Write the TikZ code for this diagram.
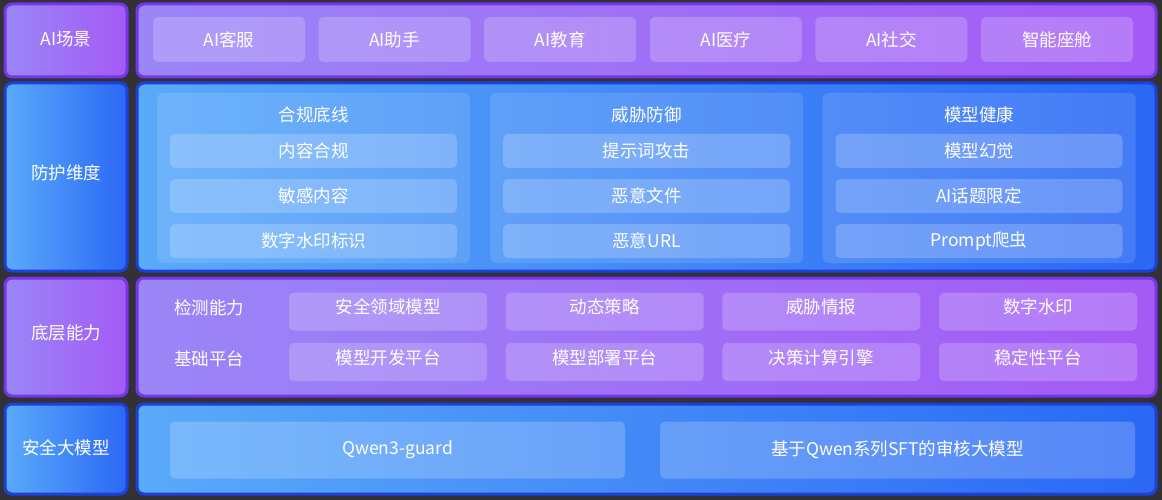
\documentclass[tikz,border=0pt]{standalone}
\usepackage{fontspec}
\newfontfamily\cjk{Noto Sans CJK SC}
\definecolor{bgdark}{HTML}{323236}
\definecolor{pborder}{HTML}{7436E8}
\definecolor{pleft}{HTML}{9A86F7}
\definecolor{pright}{HTML}{A45AF5}
\definecolor{bborder}{HTML}{1E40D8}
\definecolor{bleft}{HTML}{5AAAFA}
\definecolor{bright}{HTML}{2A68F5}
\tikzset{
  txt/.style={text=white, font=\cjk\fontsize{17.5}{20}\selectfont},
  rowp/.style={draw=pborder, line width=3pt, rounded corners=7pt, left color=pleft, right color=pright, inner sep=0pt},
  rowb/.style={draw=bborder, line width=3pt, rounded corners=7pt, left color=bleft, right color=bright, inner sep=0pt},
  cell/.style={txt, fill=white, fill opacity=0.2, text opacity=1, rounded corners=5pt, inner sep=0pt},
  scenecell/.style={cell, minimum width=152pt, minimum height=45pt},
  panel/.style={fill=white, fill opacity=0.12, rounded corners=6pt, minimum width=313pt, minimum height=170pt, inner sep=0pt},
  guardcell/.style={cell, minimum width=287pt, minimum height=34pt},
  capcell/.style={cell, minimum width=198pt, minimum height=38pt, text height=0.8em, text depth=0.36em},
  modelcell/.style={cell, minimum height=57pt}
}
\begin{document}
\begin{tikzpicture}[x=1pt,y=-1pt]

\fill[bgdark] (0,0) rectangle (1162,500);
\useasboundingbox (0,0) rectangle (1162,500);

% AI场景
\node[rowp, minimum width=122pt, minimum height=73pt] (scene) at (66,40.5) {};
\node[txt] (scenet) at (66,38.5) {AI场景};
\node[rowp, minimum width=1019pt, minimum height=73pt] (scenerow) at (646.5,40.5) {};
\node[scenecell] (kefu) at (229,39.5) {AI客服};
\node[scenecell] (zhushou) at (394.6,39.5) {AI助手};
\node[scenecell] (jiaoyu) at (560.2,39.5) {AI教育};
\node[scenecell] (yiliao) at (725.8,39.5) {AI医疗};
\node[scenecell] (shejiao) at (891.4,39.5) {AI社交};
\node[scenecell] (zuocang) at (1057,39.5) {智能座舱};

% 防护维度
\node[rowb, minimum width=122pt, minimum height=188pt] (guard) at (66,177) {};
\node[txt] (guardt) at (66,172.5) {防护维度};
\node[rowb, minimum width=1019pt, minimum height=188pt] (guardrow) at (646.5,177) {};

\node[panel] (hegui) at (313.5,178) {};
\node[txt] (heguit) at (313.5,115) {合规底线};
\node[guardcell] (neirong) at (313.5,151) {内容合规};
\node[guardcell] (mingan) at (313.5,196) {敏感内容};
\node[guardcell] (shuiyin) at (313.5,241) {数字水印标识};

\node[panel] (weixie) at (646.5,178) {};
\node[txt] (weixiet) at (646.5,115) {威胁防御};
\node[guardcell] (tishici) at (646.5,151) {提示词攻击};
\node[guardcell] (wenjian) at (646.5,196) {恶意文件};
\node[guardcell] (url) at (646.5,241) {恶意URL};

\node[panel] (jiankang) at (979,178) {};
\node[txt] (jiankangt) at (979,115) {模型健康};
\node[guardcell] (huanjue) at (979,151) {模型幻觉};
\node[guardcell] (huati) at (979,196) {AI话题限定};
\node[guardcell] (pachong) at (979,241) {Prompt爬虫};

% 底层能力
\node[rowp, minimum width=122pt, minimum height=118pt] (base) at (66,337) {};
\node[txt] (baset) at (66,332.5) {底层能力};
\node[rowp, minimum width=1019pt, minimum height=118pt] (baserow) at (646.5,337) {};
\node[txt] (jiance) at (209,308) {检测能力};
\node[txt] (pingtai) at (209,358.5) {基础平台};

\node[capcell] (lingyu) at (388,311.5) {安全领域模型};
\node[capcell] (celue) at (604.7,311.5) {动态策略};
\node[capcell] (qingbao) at (821.3,311.5) {威胁情报};
\node[capcell] (dshuiyin) at (1038,311.5) {数字水印};

\node[capcell] (kaifa) at (388,362) {模型开发平台};
\node[capcell] (bushu) at (604.7,362) {模型部署平台};
\node[capcell] (yinqing) at (821.3,362) {决策计算引擎};
\node[capcell] (wending) at (1038,362) {稳定性平台};

% 安全大模型
\node[rowb, minimum width=122pt, minimum height=90pt] (llm) at (66,449) {};
\node[txt] (llmt) at (66,447.5) {安全大模型};
\node[rowb, minimum width=1019pt, minimum height=90pt] (llmrow) at (646.5,449) {};
\node[modelcell, minimum width=455pt] (qwen) at (397.5,450) {Qwen3-guard};
\node[modelcell, minimum width=475pt] (sft) at (897.5,450) {基于Qwen系列SFT的审核大模型};

\end{tikzpicture}
\end{document}
